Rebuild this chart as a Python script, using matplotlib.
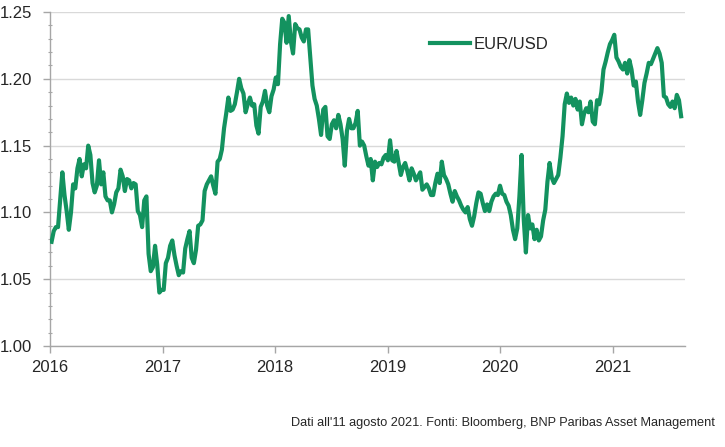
import matplotlib
matplotlib.use("Agg")
import matplotlib.pyplot as plt
import matplotlib.dates as mdates
from matplotlib.ticker import MultipleLocator, FormatStrFormatter
import pandas as pd

plt.rcParams["font.family"] = ["Liberation Sans", "DejaVu Sans"]

# weekly EUR/USD (Wednesdays)
eurusd_2016 = [1.078, 1.086, 1.089, 1.089, 1.110, 1.130, 1.113, 1.101, 1.087, 1.100,
               1.121, 1.118, 1.133, 1.140, 1.127, 1.136, 1.133, 1.150, 1.143, 1.122,
               1.115, 1.120, 1.139, 1.121, 1.130, 1.112, 1.109, 1.109, 1.100, 1.106,
               1.115, 1.118, 1.132, 1.127, 1.116, 1.125, 1.124, 1.118, 1.122, 1.121,
               1.101, 1.098, 1.089, 1.109, 1.112, 1.069, 1.056, 1.059, 1.075, 1.061,
               1.040, 1.042]
eurusd_2017 = [1.042, 1.062, 1.066, 1.075, 1.079, 1.068, 1.060, 1.053, 1.056, 1.055,
               1.073, 1.080, 1.086, 1.066, 1.062, 1.072, 1.090, 1.091, 1.094, 1.116,
               1.121, 1.124, 1.127, 1.120, 1.114, 1.138, 1.140, 1.147, 1.163, 1.174,
               1.186, 1.176, 1.177, 1.181, 1.190, 1.200, 1.193, 1.189, 1.175, 1.181,
               1.186, 1.180, 1.181, 1.165, 1.159, 1.179, 1.183, 1.191, 1.180, 1.175,
               1.187, 1.192]
eurusd_2018 = [1.201, 1.196, 1.226, 1.245, 1.242, 1.227, 1.247, 1.228, 1.219, 1.241,
               1.238, 1.237, 1.231, 1.228, 1.237, 1.237, 1.216, 1.195, 1.185, 1.180,
               1.170, 1.158, 1.177, 1.179, 1.157, 1.155, 1.166, 1.169, 1.163, 1.173,
               1.166, 1.155, 1.135, 1.161, 1.170, 1.163, 1.163, 1.167, 1.176, 1.150,
               1.153, 1.150, 1.142, 1.135, 1.140, 1.124, 1.138, 1.134, 1.137, 1.136,
               1.141, 1.143]
eurusd_2019 = [1.139, 1.154, 1.139, 1.138, 1.146, 1.137, 1.128, 1.134, 1.137, 1.131,
               1.124, 1.133, 1.129, 1.124, 1.127, 1.130, 1.117, 1.119, 1.121, 1.118,
               1.113, 1.113, 1.122, 1.129, 1.122, 1.138, 1.128, 1.125, 1.121, 1.114,
               1.108, 1.116, 1.112, 1.109, 1.105, 1.102, 1.100, 1.104, 1.095, 1.090,
               1.097, 1.107, 1.115, 1.114, 1.107, 1.101, 1.106, 1.101, 1.108, 1.112,
               1.114, 1.113]
eurusd_2020 = [1.120, 1.114, 1.113, 1.108, 1.105, 1.098, 1.087, 1.080, 1.088, 1.112,
               1.143, 1.095, 1.070, 1.098, 1.088, 1.091, 1.080, 1.087, 1.079, 1.082,
               1.094, 1.102, 1.123, 1.137, 1.126, 1.122, 1.125, 1.128, 1.141, 1.157,
               1.181, 1.189, 1.182, 1.186, 1.180, 1.185, 1.177, 1.183, 1.166, 1.174,
               1.178, 1.175, 1.183, 1.168, 1.166, 1.184, 1.181, 1.190, 1.207, 1.213,
               1.220, 1.226, 1.229]
eurusd_2021 = [1.233, 1.216, 1.213, 1.209, 1.207, 1.212, 1.204, 1.214, 1.207, 1.195,
               1.198, 1.183, 1.173, 1.184, 1.197, 1.204, 1.212, 1.211, 1.215, 1.219,
               1.223, 1.219, 1.212, 1.187, 1.186, 1.181, 1.179, 1.183, 1.178, 1.188,
               1.184, 1.172]

values = (eurusd_2016 + eurusd_2017 + eurusd_2018 + eurusd_2019
          + eurusd_2020 + eurusd_2021)
dates = pd.date_range("2016-01-06", periods=len(values), freq="7D")

green = "#13925F"
text_col = "#262626"
axis_col = "#A6A6A6"

fig = plt.figure(figsize=(7.25, 4.47), dpi=100)
ax = fig.add_axes([0.069, 0.226, 0.876, 0.747])

ax.plot(dates, values, color=green, linewidth=3.0, label="EUR/USD",
        solid_joinstyle="round", zorder=3)

ax.set_ylim(1.00, 1.25)
ax.set_xlim(pd.Timestamp("2016-01-01"), pd.Timestamp("2021-08-24"))
ax.yaxis.set_major_locator(MultipleLocator(0.05))
ax.yaxis.set_minor_locator(MultipleLocator(0.01))
ax.yaxis.set_major_formatter(FormatStrFormatter("%.2f"))
ax.xaxis.set_major_locator(mdates.YearLocator())
ax.xaxis.set_major_formatter(mdates.DateFormatter("%Y"))

ax.grid(axis="y", which="major", color="#D9D9D9", linewidth=1.0, zorder=0)
for s in ["top", "right"]:
    ax.spines[s].set_visible(False)
for s in ["left", "bottom"]:
    ax.spines[s].set_color(axis_col)
    ax.spines[s].set_linewidth(1.0)

ax.tick_params(axis="y", which="major", length=5, width=1, color=axis_col,
               labelsize=12, labelcolor=text_col, pad=8)
ax.tick_params(axis="y", which="minor", length=3, width=0.8, color=axis_col,
               direction="inout")
ax.tick_params(axis="x", which="major", length=5, width=1, color=axis_col,
               labelsize=12, labelcolor=text_col, pad=5)

leg = ax.legend(loc="upper left", bbox_to_anchor=(0.575, 0.97), frameon=False,
                fontsize=12, handlelength=2.4, handletextpad=0.2,
                labelcolor=text_col)

fig.text(0.986, 0.040,
         "Dati all'11 agosto 2021. Fonti: Bloomberg, BNP Paribas Asset Management",
         ha="right", va="bottom", fontsize=9.2, color=text_col)

fig.savefig("out.png", dpi=100)
